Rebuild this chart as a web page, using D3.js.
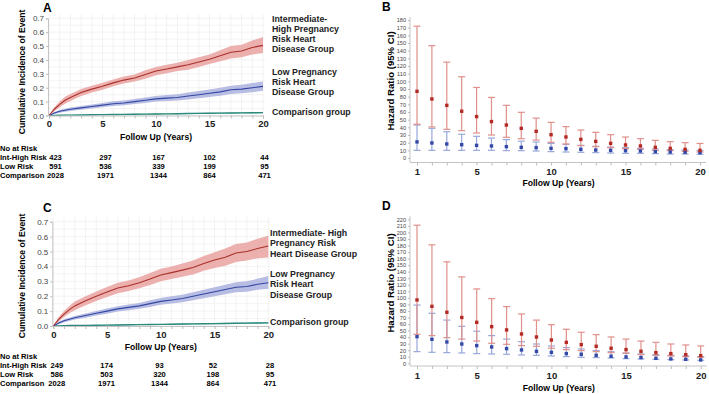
<!DOCTYPE html>
<html>
<head>
<meta charset="utf-8">
<script src="https://cdn.jsdelivr.net/npm/d3@7"></script>
<style>
  body { margin: 0; background: #fff; }
  text { font-family: "Liberation Sans", Arial, sans-serif; }
</style>
</head>
<body>
<svg id="chart"></svg>
<script>
// ---- data: cumulative incidence curves (panels A and C) ----
const kmTime = [0, 0.5, 1, 1.5, 2, 3, 4, 5, 6, 7, 8, 9, 10, 11, 12, 13, 14, 15, 16, 17, 18, 19, 20];
const kmTicks = [0, 1, 2, 3, 4, 5, 6, 7, 8, 9, 10, 11, 12, 13, 14, 15, 16, 17, 18, 19, 20];

const aHighEst = [0, 0.045, 0.08, 0.11, 0.13, 0.165, 0.19, 0.21, 0.235, 0.255, 0.27, 0.295, 0.32, 0.335, 0.35, 0.365, 0.385, 0.405, 0.43, 0.455, 0.465, 0.49, 0.505];
const aHighLo = [0, 0.03, 0.06, 0.085, 0.105, 0.14, 0.165, 0.185, 0.21, 0.23, 0.245, 0.265, 0.29, 0.305, 0.32, 0.33, 0.35, 0.37, 0.39, 0.41, 0.42, 0.44, 0.45];
const aHighHi = [0, 0.06, 0.1, 0.135, 0.155, 0.19, 0.215, 0.235, 0.26, 0.28, 0.295, 0.325, 0.35, 0.365, 0.38, 0.4, 0.42, 0.44, 0.47, 0.5, 0.51, 0.54, 0.565];
const aLowEst = [0, 0.018, 0.03, 0.038, 0.045, 0.055, 0.065, 0.075, 0.085, 0.09, 0.1, 0.11, 0.12, 0.125, 0.13, 0.14, 0.15, 0.16, 0.17, 0.185, 0.19, 0.2, 0.21];
const aLowLo = [0, 0.01, 0.02, 0.027, 0.033, 0.042, 0.05, 0.06, 0.068, 0.073, 0.082, 0.09, 0.1, 0.104, 0.108, 0.116, 0.125, 0.133, 0.142, 0.155, 0.16, 0.168, 0.178];
const aLowHi = [0, 0.026, 0.04, 0.049, 0.057, 0.068, 0.08, 0.09, 0.102, 0.108, 0.118, 0.13, 0.14, 0.147, 0.153, 0.165, 0.176, 0.188, 0.2, 0.215, 0.222, 0.234, 0.245];

const cHighEst = [0, 0.045, 0.08, 0.11, 0.135, 0.17, 0.2, 0.228, 0.255, 0.27, 0.29, 0.315, 0.342, 0.358, 0.375, 0.392, 0.42, 0.443, 0.462, 0.49, 0.5, 0.52, 0.537];
const cHighLo = [0, 0.03, 0.06, 0.085, 0.105, 0.14, 0.168, 0.195, 0.22, 0.235, 0.253, 0.275, 0.3, 0.315, 0.33, 0.345, 0.37, 0.39, 0.405, 0.43, 0.44, 0.455, 0.46];
const cHighHi = [0, 0.06, 0.1, 0.135, 0.165, 0.2, 0.232, 0.262, 0.29, 0.305, 0.327, 0.355, 0.385, 0.4, 0.42, 0.44, 0.47, 0.495, 0.52, 0.55, 0.56, 0.585, 0.605];
const cLowEst = [0, 0.02, 0.035, 0.045, 0.055, 0.07, 0.085, 0.1, 0.115, 0.125, 0.135, 0.15, 0.165, 0.175, 0.185, 0.2, 0.215, 0.23, 0.245, 0.26, 0.265, 0.28, 0.29];
const cLowLo = [0, 0.012, 0.025, 0.034, 0.043, 0.056, 0.07, 0.083, 0.097, 0.106, 0.115, 0.128, 0.142, 0.151, 0.16, 0.173, 0.186, 0.2, 0.213, 0.226, 0.23, 0.243, 0.25];
const cLowHi = [0, 0.028, 0.045, 0.056, 0.067, 0.084, 0.1, 0.117, 0.133, 0.144, 0.155, 0.172, 0.188, 0.199, 0.21, 0.227, 0.244, 0.26, 0.277, 0.294, 0.3, 0.317, 0.335];

// comparison group is the same in both panels
const compEst = [0, 0.001, 0.002, 0.003, 0.003, 0.004, 0.005, 0.006, 0.007, 0.008, 0.009, 0.01, 0.011, 0.012, 0.013, 0.014, 0.015, 0.016, 0.017, 0.018, 0.019, 0.02, 0.021];
const compLo = [0, 0, 0.001, 0.001, 0.002, 0.002, 0.003, 0.004, 0.004, 0.005, 0.006, 0.007, 0.008, 0.009, 0.009, 0.01, 0.011, 0.012, 0.013, 0.014, 0.014, 0.015, 0.016];
const compHi = [0, 0.002, 0.003, 0.005, 0.005, 0.006, 0.007, 0.008, 0.01, 0.011, 0.012, 0.013, 0.014, 0.015, 0.017, 0.018, 0.019, 0.02, 0.021, 0.022, 0.024, 0.025, 0.026];

// number at risk
const riskTimes = [0, 5, 10, 15, 20];
const riskLabels = ["Int-High Risk", "Low Risk", "Comparison"];
const aRiskHigh = [423, 297, 167, 102, 44];
const aRiskLow = [591, 536, 339, 199, 95];
const aRiskComp = [2028, 1971, 1344, 864, 471];
const cRiskHigh = [249, 174, 93, 52, 28];
const cRiskLow = [586, 503, 320, 198, 95];
const cRiskComp = [2028, 1971, 1344, 864, 471];

// ---- data: hazard ratios (panels B and D) ----
const hrYears = [1, 2, 3, 4, 5, 6, 7, 8, 9, 10, 11, 12, 13, 14, 15, 16, 17, 18, 19, 20];
const hrLabelYears = [1, 5, 10, 15, 20];

const bHighEst = [87, 77, 68.7, 61, 54, 47.5, 43, 38.7, 34.8, 30.4, 27.4, 24.3, 21.7, 19.1, 17, 15.7, 13.9, 12.6, 11.3, 10];
const bHighLo = [44, 40.5, 37.4, 35.7, 32.6, 30, 27, 25.2, 23.5, 20.4, 18.3, 16.1, 14.8, 13.5, 12.2, 11.3, 10, 9.6, 8.7, 7.8];
const bHighHi = [172, 146.5, 125, 106, 92, 79, 68.7, 59.6, 52, 46.5, 40.9, 36.5, 33.5, 30.4, 27.4, 25.2, 23, 21.3, 20, 19];
const bLowEst = [21, 19.6, 18.3, 17.4, 16.5, 15.7, 14.8, 13.9, 13.5, 12.6, 12.2, 11.3, 10.4, 10, 9.6, 9.1, 8.3, 7.8, 7.4, 7];
const bLowLo = [10, 10, 10, 10, 10, 10, 9.6, 9.6, 9.1, 8.3, 7.8, 7.4, 7, 6.5, 6.1, 6.1, 5.7, 5.2, 5.2, 4.8];
const bLowHi = [43, 38.7, 34.3, 31, 28.3, 26, 24, 22, 20.9, 19, 17.8, 16.5, 15.2, 14.3, 13.5, 12.6, 11.7, 10.9, 10.4, 9.6];

const dHighEst = [96.8, 87, 78, 70, 62.6, 56, 51, 44.8, 40.2, 35.6, 32, 28.5, 26, 23, 20.9, 18.3, 16.3, 14.8, 13.2, 11.7];
const dHighLo = [44.3, 42.3, 39.2, 37, 34, 30.6, 29, 27, 26, 23, 20.9, 19.4, 17.8, 16.3, 15.3, 13.2, 12.2, 11.2, 10.2, 9.2];
const dHighHi = [211, 181, 155, 132, 113.6, 98.8, 86.6, 75.4, 66, 59, 52, 47.4, 43.8, 40.2, 37, 34, 32, 29.5, 28, 26.5];
const dLowEst = [40.7, 36.7, 32.6, 29.5, 27, 25, 22.4, 20.4, 18.3, 16.8, 14.8, 13.8, 12.2, 10.7, 9.7, 8.7, 7.6, 6.6, 6.1, 5.1];
const dLowLo = [17.8, 16.8, 16.3, 15.8, 14.8, 14.3, 13.8, 12.7, 12.2, 11.2, 10.2, 9.2, 8.7, 8.1, 7.1, 6.6, 6.1, 5.6, 5.1, 4.6];
const dLowHi = [89, 76.4, 66, 56.5, 49, 42.3, 37, 33, 29.5, 26.5, 24, 21.9, 19.4, 17.8, 15.8, 14.3, 13.2, 12.2, 11.2, 10.2];

const colors = {
  highLine: "#a9302b", highBand: "#e9a2a0",
  lowLine: "#3446a3", lowBand: "#aab2de",
  compLine: "#2b8a7b", compBand: "#86c6b8",
  highBar: "#e0908a", highPt: "#b42b25",
  lowBar: "#98a8da", lowPt: "#3448a8"
};

const svg = d3.select("#chart").attr("width", 709).attr("height", 394);

function styleAxis(ax) {
  ax.select(".domain").attr("stroke", "#c4c4c4");
  ax.selectAll(".tick line").attr("stroke", "#bdbdbd");
}

// cumulative incidence panel
function drawKM(cfg) {
  const g = svg.append("g");
  const x = d3.scaleLinear().domain([0, 20]).range(cfg.xr);
  const y = d3.scaleLinear().domain([0, 0.7]).range(cfg.yr);

  // light grid
  g.selectAll(".vgrid").data(kmTicks).enter().append("line")
    .attr("x1", d => x(d)).attr("x2", d => x(d))
    .attr("y1", y(0)).attr("y2", y(0.73))
    .attr("stroke", "#eeeeee").attr("stroke-width", 0.7);
  g.selectAll(".hgrid").data(y.ticks(14)).enter().append("line")
    .attr("x1", x(0)).attr("x2", x(20.2))
    .attr("y1", d => y(d)).attr("y2", d => y(d))
    .attr("stroke", "#eeeeee").attr("stroke-width", 0.7);

  const area = d3.area().x(d => x(d.t)).y0(d => y(d.lo)).y1(d => y(d.hi));
  const line = d3.line().x(d => x(d.t)).y(d => y(d.est));

  cfg.series.forEach(s => {
    const rows = kmTime.map((t, i) => ({ t: t, est: s.est[i], lo: s.lo[i], hi: s.hi[i] }));
    g.append("path").attr("d", area(rows)).attr("fill", s.band).attr("opacity", 0.85);
    g.append("path").attr("d", line(rows)).attr("fill", "none")
      .attr("stroke", s.line).attr("stroke-width", s.width || 1.1);
  });

  // axes
  const xa = g.append("g").attr("transform", `translate(0,${y(0)})`)
    .call(d3.axisBottom(x).tickValues(kmTicks).tickSize(3).tickPadding(2)
      .tickFormat(d => d % 5 === 0 ? d : ""));
  styleAxis(xa);
  xa.selectAll("text").attr("font-size", 9.5).attr("font-weight", "bold").attr("fill", "#222");

  const ya = g.append("g").attr("transform", `translate(${x(0) - 1},0)`)
    .call(d3.axisLeft(y).ticks(7).tickSize(2).tickPadding(2).tickFormat(d3.format(".1f")));
  styleAxis(ya);
  ya.selectAll("text").attr("font-size", 8).attr("fill", "#444");

  g.append("text").attr("x", (x(0) + x(20)) / 2).attr("y", cfg.xLabelY)
    .attr("text-anchor", "middle").attr("font-size", 8.6).attr("font-weight", "bold")
    .text("Follow Up (Years)");
  g.append("text").attr("transform", `translate(25,${cfg.yLabelY}) rotate(-90)`)
    .attr("text-anchor", "middle").attr("font-size", 8.6).attr("font-weight", "bold")
    .text("Cumulative Incidence of Event");
  g.append("text").attr("x", cfg.letter[0]).attr("y", cfg.letter[1])
    .attr("font-size", 12).attr("font-weight", "bold").text(cfg.letterText);

  // group labels on the right
  cfg.groupLabels.forEach(lab => {
    lab.lines.forEach((txt, i) => {
      g.append("text").attr("x", cfg.labelX).attr("y", lab.y + i * lab.gap)
        .attr("font-size", 8.8).attr("font-weight", "bold").attr("fill", "#222").text(txt);
    });
  });

  // number at risk table
  g.append("text").attr("x", 0).attr("y", cfg.riskY[0])
    .attr("font-size", 7.6).attr("font-weight", "bold").text("No at Risk");
  cfg.risk.forEach((vals, r) => {
    g.append("text").attr("x", 0).attr("y", cfg.riskY[r + 1])
      .attr("font-size", 7.6).attr("font-weight", "bold").text(riskLabels[r]);
    g.selectAll(null).data(vals).enter().append("text")
      .attr("x", (d, i) => x(riskTimes[i]) + cfg.riskShift[i])
      .attr("y", cfg.riskY[r + 1])
      .attr("text-anchor", "middle").attr("font-size", 7.6).attr("font-weight", "bold")
      .text(d => d);
  });
}

// hazard ratio panel
function drawHR(cfg) {
  const g = svg.append("g");
  const x = d3.scaleLinear().domain([1, 20]).range(cfg.xr);
  const y = d3.scaleLinear().domain([0, cfg.ymax]).range(cfg.yr);

  // axis lines
  g.append("line").attr("x1", cfg.axisX).attr("x2", cfg.axisX)
    .attr("y1", y(cfg.ymax) - 3).attr("y2", cfg.axisY).attr("stroke", "#c4c4c4");
  g.append("line").attr("x1", cfg.axisX).attr("x2", x(20) + 6)
    .attr("y1", cfg.axisY).attr("y2", cfg.axisY).attr("stroke", "#c4c4c4");

  const ya = g.append("g").attr("transform", `translate(${cfg.axisX},0)`)
    .call(d3.axisLeft(y).tickValues(d3.range(0, cfg.ymax + 1, 10)).tickSize(2).tickPadding(2));
  styleAxis(ya);
  ya.select(".domain").remove();
  ya.selectAll("text").attr("font-size", 5.6).attr("fill", "#444");

  const xa = g.append("g").attr("transform", `translate(0,${cfg.axisY})`)
    .call(d3.axisBottom(x).tickValues(hrYears).tickSize(3).tickPadding(3)
      .tickFormat(d => hrLabelYears.includes(d) ? d : ""));
  styleAxis(xa);
  xa.select(".domain").remove();
  xa.selectAll("text").attr("font-size", 9.5).attr("font-weight", "bold").attr("fill", "#222");

  g.append("text").attr("x", (x(1) + x(20)) / 2).attr("y", cfg.xLabelY)
    .attr("text-anchor", "middle").attr("font-size", 8.6).attr("font-weight", "bold")
    .text("Follow Up (Years)");
  g.append("text").attr("transform", `translate(394,${cfg.yLabelY}) rotate(-90)`)
    .attr("text-anchor", "middle").attr("font-size", 9.6).attr("font-weight", "bold")
    .text("Hazard Ratio (95% CI)");
  g.append("text").attr("x", cfg.letter[0]).attr("y", cfg.letter[1])
    .attr("font-size", 12).attr("font-weight", "bold").text(cfg.letterText);

  // error bars: low risk first, int-high on top
  cfg.series.forEach(s => {
    const rows = hrYears.map((yr, i) => ({ yr: yr, est: s.est[i], lo: s.lo[i], hi: s.hi[i] }));
    const bg = g.append("g");
    bg.selectAll(".bar").data(rows).enter().append("line")
      .attr("x1", d => x(d.yr)).attr("x2", d => x(d.yr))
      .attr("y1", d => y(d.lo)).attr("y2", d => y(d.hi))
      .attr("stroke", s.bar).attr("stroke-width", 1.2);
    ["lo", "hi"].forEach(k => {
      bg.selectAll(".cap" + k).data(rows).enter().append("line")
        .attr("x1", d => x(d.yr) - 3.5).attr("x2", d => x(d.yr) + 3.5)
        .attr("y1", d => y(d[k])).attr("y2", d => y(d[k]))
        .attr("stroke", s.bar).attr("stroke-width", 1.2);
    });
  });
  cfg.series.forEach(s => {
    g.selectAll(null).data(hrYears).enter().append("rect")
      .attr("x", d => x(d) - 1.7).attr("y", (d, i) => y(s.est[i]) - 1.7)
      .attr("width", 3.4).attr("height", 3.4).attr("fill", s.pt);
  });
}

drawKM({
  letterText: "A", letter: [43, 11.5],
  xr: [49, 263], yr: [115.5, 18.3],
  xLabelY: 140, yLabelY: 72,
  labelX: 272,
  groupLabels: [
    { lines: ["Intermediate-", "High Pregnancy", "Risk Heart", "Disease Group"], y: 22, gap: 10 },
    { lines: ["Low Pregnancy", "Risk Heart", "Disease Group"], y: 75, gap: 10 },
    { lines: ["Comparison group"], y: 115, gap: 10 }
  ],
  series: [
    { est: compEst, lo: compLo, hi: compHi, line: colors.compLine, band: colors.compBand, width: 1.4 },
    { est: aLowEst, lo: aLowLo, hi: aLowHi, line: colors.lowLine, band: colors.lowBand },
    { est: aHighEst, lo: aHighLo, hi: aHighHi, line: colors.highLine, band: colors.highBand }
  ],
  risk: [aRiskHigh, aRiskLow, aRiskComp],
  riskY: [151, 160, 169, 178], riskShift: [6.5, 3, 2.5, 0, 1.5]
});

drawKM({
  letterText: "C", letter: [43, 211.5],
  xr: [53.3, 268.3], yr: [326, 221.7],
  xLabelY: 350, yLabelY: 276,
  labelX: 270,
  groupLabels: [
    { lines: ["Intermediate- High", "Pregnancy Risk", "Heart Disease Group"], y: 235.5, gap: 10.5 },
    { lines: ["Low Pregnancy", "Risk Heart", "Disease Group"], y: 276.5, gap: 10.7 },
    { lines: ["Comparison group"], y: 325, gap: 10 }
  ],
  series: [
    { est: compEst, lo: compLo, hi: compHi, line: colors.compLine, band: colors.compBand, width: 1.4 },
    { est: cLowEst, lo: cLowLo, hi: cLowHi, line: colors.lowLine, band: colors.lowBand },
    { est: cHighEst, lo: cHighLo, hi: cHighHi, line: colors.highLine, band: colors.highBand }
  ],
  risk: [cRiskHigh, cRiskLow, cRiskComp],
  riskY: [359, 367.5, 376.5, 386], riskShift: [3.5, -0.5, -1.3, -1.6, 1.7]
});

drawHR({
  letterText: "B", letter: [382, 11],
  xr: [417, 700], yr: [158, 20], ymax: 180,
  axisX: 410, axisY: 162.5,
  xLabelY: 185.5, yLabelY: 81,
  series: [
    { est: bLowEst, lo: bLowLo, hi: bLowHi, bar: colors.lowBar, pt: colors.lowPt },
    { est: bHighEst, lo: bHighLo, hi: bHighHi, bar: colors.highBar, pt: colors.highPt }
  ]
});

drawHR({
  letterText: "D", letter: [382, 209.5],
  xr: [417, 700.7], yr: [363.3, 219.3], ymax: 220,
  axisX: 410, axisY: 366,
  xLabelY: 391, yLabelY: 283,
  series: [
    { est: dLowEst, lo: dLowLo, hi: dLowHi, bar: colors.lowBar, pt: colors.lowPt },
    { est: dHighEst, lo: dHighLo, hi: dHighHi, bar: colors.highBar, pt: colors.highPt }
  ]
});
</script>
</body>
</html>
